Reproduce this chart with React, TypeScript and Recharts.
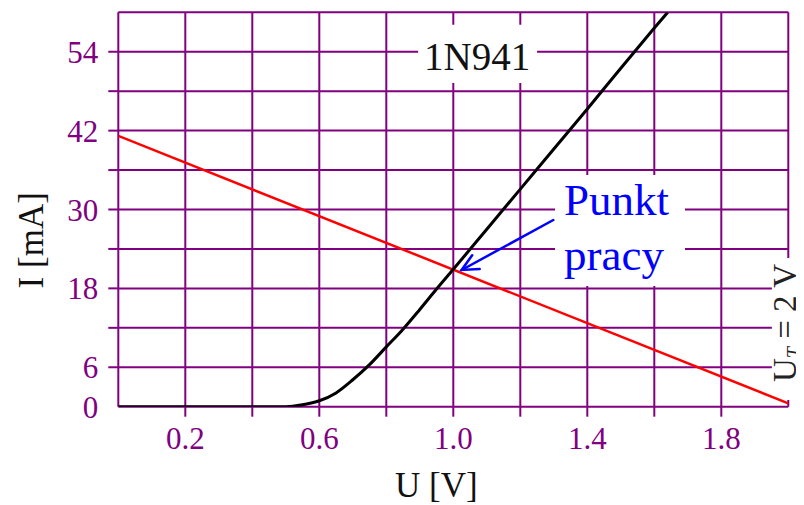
import React from 'react';
import {
  LineChart,
  Line,
  XAxis,
  YAxis,
  CartesianGrid,
  ReferenceArea,
  ReferenceLine,
} from 'recharts';

// ---- data ----
const uTicks = [0, 0.2, 0.4, 0.6, 0.8, 1.0, 1.2, 1.4, 1.6, 1.8, 2.0];
const iTicks = [0, 6, 12, 18, 24, 30, 36, 42, 48, 54, 60];
const uTickLabels = [0.2, 0.6, 1.0, 1.4, 1.8];
const iTickLabels = [0, 6, 18, 30, 42, 54];

const diodeU = [0, 0.5, 0.55, 0.6, 0.65, 0.7, 0.75, 0.8, 0.85, 0.9, 0.95, 1.0, 1.1, 1.2, 1.3, 1.4, 1.5, 1.6, 1.64];
const diodeI = [0, 0, 0.3, 0.9, 2.1, 4.1, 6.4, 9.1, 11.8, 14.8, 17.9, 20.9, 27.0, 33.1, 39.2, 45.3, 51.5, 57.6, 60];

const loadU = [0, 2.0];
const loadI = [41.2, 0.5];

const diodeName = '1N941';
const pointLabel = ['Punkt', 'pracy'];
const sourceLabel = { main: 'U', sub: 'T', rest: ' = 2 V' };
const xTitle = 'U [V]';
const yTitle = 'I [mA]';

const diodeData = diodeU.map((u, k) => ({ u, i: diodeI[k] }));
const loadData = loadU.map((u, k) => ({ u, i: loadI[k] }));

const PURPLE = '#800080';
const FONT = '"Liberation Serif", "Times New Roman", serif';

const XTick = (props: any) => {
  const { x, y, payload } = props;
  const v = payload.value;
  const showLine = v > 0.001 && v < 1.999;
  const showLabel = uTickLabels.some((t) => Math.abs(t - v) < 1e-6);
  return (
    <g>
      {showLine && <line x1={x} x2={x} y1={y - 20} y2={y - 10} stroke={PURPLE} strokeWidth={2} />}
      {showLabel && (
        <text x={x} y={y} dy="0.71em" textAnchor="middle" fill={PURPLE} fontSize={31} fontFamily={FONT}>
          {v.toFixed(1)}
        </text>
      )}
    </g>
  );
};

const YTick = (props: any) => {
  const { x, y, payload } = props;
  const v = payload.value;
  const showLine = v > 0 && v < 60;
  const showLabel = iTickLabels.includes(v);
  return (
    <g>
      {showLine && <line x1={x + 10} x2={x + 20} y1={y} y2={y} stroke={PURPLE} strokeWidth={2} />}
      {showLabel && (
        <text x={x} y={y} dy="0.355em" textAnchor="end" fill={PURPLE} fontSize={31} fontFamily={FONT}>
          {v}
        </text>
      )}
    </g>
  );
};

const XTitle = (props: any) => {
  const vb = props.viewBox || {};
  return (
    <text x={vb.x + 318} y={vb.y + 90} textAnchor="middle" fill="#111" fontSize={35} fontFamily={FONT}>
      {xTitle}
    </text>
  );
};

const YTitle = (props: any) => {
  const vb = props.viewBox || {};
  const cx = vb.x + 25;
  const cy = vb.y + 228;
  return (
    <text x={cx} y={cy} transform={`rotate(-90 ${cx} ${cy})`} textAnchor="middle" fill="#111" fontSize={35} fontFamily={FONT}>
      {yTitle}
    </text>
  );
};

const DiodeLabel = (props: any) => {
  const vb = props.viewBox || {};
  return (
    <text x={vb.x + 59} y={vb.y + 45} textAnchor="middle" fill="#111" fontSize={39} fontFamily={FONT}>
      {diodeName}
    </text>
  );
};

const PointLabel = (props: any) => {
  const vb = props.viewBox || {};
  return (
    <g>
      <text x={vb.x + 9} y={vb.y + 40} fill="#0000ff" fontSize={45} fontFamily={FONT}>
        {pointLabel[0]}
      </text>
      <text x={vb.x + 9} y={vb.y + 95} fill="#0000ff" fontSize={45} fontFamily={FONT}>
        {pointLabel[1]}
      </text>
    </g>
  );
};

const SourceLabel = (props: any) => {
  const vb = props.viewBox || {};
  const cx = vb.x + 24;
  const cy = vb.y + 65;
  return (
    <text x={cx} y={cy} transform={`rotate(-90 ${cx} ${cy})`} textAnchor="middle" fill="#222" fontSize={33} fontFamily={FONT}>
      {sourceLabel.main}
      <tspan fontSize={20} fontStyle="italic" dy={5}>{sourceLabel.sub}</tspan>
      <tspan dy={-5}>{sourceLabel.rest}</tspan>
    </text>
  );
};

const Arrow = (props: any) => {
  const { x1, y1, x2, y2 } = props;
  if ([x1, y1, x2, y2].some((v) => typeof v !== 'number' || isNaN(v))) return null;
  const ang = Math.atan2(y1 - y2, x1 - x2);
  const len = 18;
  const spread = 0.45;
  const ax1 = x2 + len * Math.cos(ang + spread);
  const ay1 = y2 + len * Math.sin(ang + spread);
  const ax2 = x2 + len * Math.cos(ang - spread);
  const ay2 = y2 + len * Math.sin(ang - spread);
  return (
    <g stroke="#0000ff" strokeWidth={2.5} fill="none" strokeLinecap="round">
      <line x1={x1} y1={y1} x2={x2} y2={y2} />
      <polyline points={`${ax1},${ay1} ${x2},${y2} ${ax2},${ay2}`} />
    </g>
  );
};

export default function App() {
  return (
    <LineChart
      width={796}
      height={497}
      margin={{ top: 4.3, right: 15.7, bottom: 8.3, left: 10.3 }}
    >
      <CartesianGrid stroke={PURPLE} strokeWidth={2} />
      <XAxis
        dataKey="u"
        type="number"
        domain={[0, 2]}
        ticks={uTicks}
        interval={0}
        allowDataOverflow
        axisLine={false}
        tickLine={false}
        tickSize={10}
        tickMargin={10}
        height={90}
        tick={<XTick />}
        label={XTitle}
      />
      <YAxis
        dataKey="i"
        type="number"
        domain={[0, 60]}
        ticks={iTicks}
        interval={0}
        allowDataOverflow
        axisLine={false}
        tickLine={false}
        tickSize={10}
        tickMargin={10}
        width={100}
        tick={<YTick />}
        label={YTitle}
      />
      <ReferenceArea x1={0.895} x2={1.25} y1={49.25} y2={58.1} fill="#ffffff" fillOpacity={1} stroke="none" ifOverflow="visible" label={DiodeLabel} />
      <ReferenceArea x1={1.3036} x2={1.6916} y1={18.36} y2={35.25} fill="#ffffff" fillOpacity={1} stroke="none" ifOverflow="visible" label={PointLabel} />
      <ReferenceArea x1={1.951} x2={2.047} y1={1.02} y2={22.62} fill="#ffffff" fillOpacity={1} stroke="none" ifOverflow="visible" label={SourceLabel} />
      <Line
        data={loadData}
        dataKey="i"
        type="linear"
        stroke="#ff0000"
        strokeWidth={2.5}
        dot={false}
        isAnimationActive={false}
      />
      <Line
        data={diodeData}
        dataKey="i"
        type="monotone"
        stroke="#000000"
        strokeWidth={3}
        dot={false}
        isAnimationActive={false}
      />
      <ReferenceLine
        segment={[{ x: 1.2985, y: 28.4 }, { x: 1.025, y: 20.8 }]}
        shape={Arrow}
        ifOverflow="visible"
      />
    </LineChart>
  );
}
